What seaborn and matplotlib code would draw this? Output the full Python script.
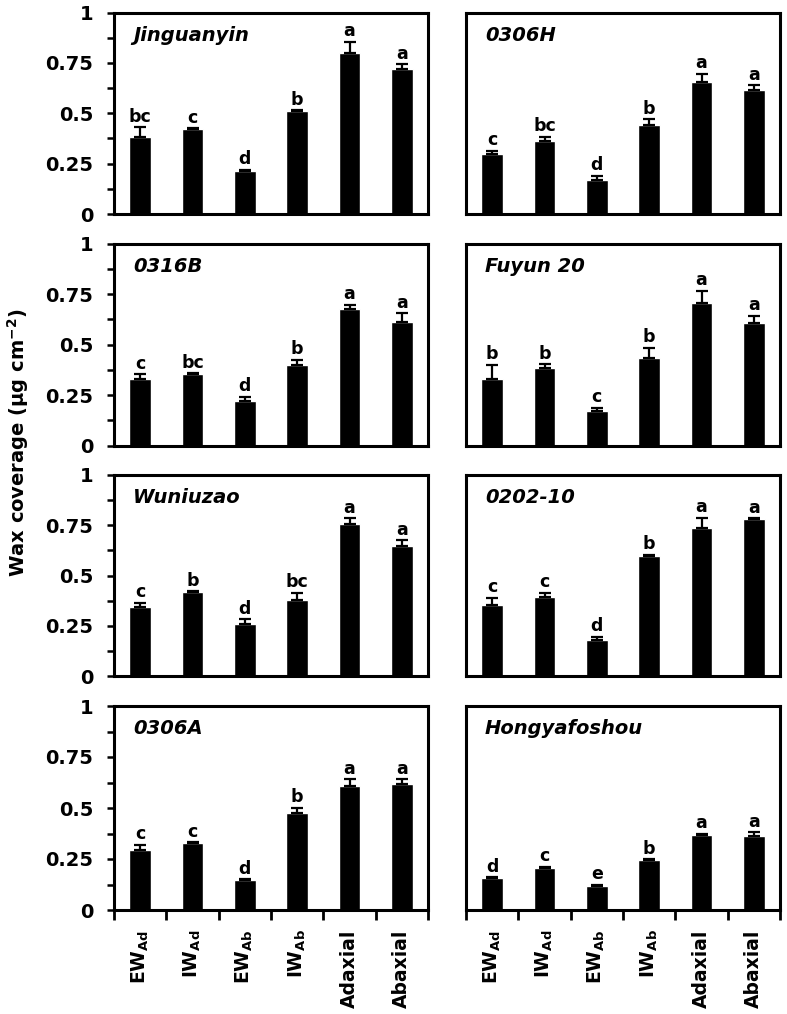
import matplotlib
matplotlib.use('Agg')
import matplotlib.pyplot as plt
import seaborn as sns
import pandas as pd
import numpy as np
from matplotlib.ticker import FixedLocator

sns.set_theme(style='white')
plt.rcParams['font.family'] = ['DejaVu Sans']
plt.rcParams['font.weight'] = 'bold'
plt.rcParams['mathtext.fontset'] = 'dejavusans'
for key in ['text.color', 'axes.labelcolor', 'xtick.color', 'ytick.color',
            'axes.edgecolor']:
    plt.rcParams[key] = 'black'

# ---------------- data ----------------
categories = ['EW_Ad', 'IW_Ad', 'EW_Ab', 'IW_Ab', 'Adaxial', 'Abaxial']
category_labels = [r'$\mathbf{EW}_{\mathbf{Ad}}$', r'$\mathbf{IW}_{\mathbf{Ad}}$',
                   r'$\mathbf{EW}_{\mathbf{Ab}}$', r'$\mathbf{IW}_{\mathbf{Ab}}$',
                   'Adaxial', 'Abaxial']
y_ticks = [0, 0.25, 0.5, 0.75, 1]
y_tick_labels = ['0', '0.25', '0.5', '0.75', '1']

genotypes = ['Jinguanyin', '0306H', '0316B', 'Fuyun 20',
             'Wuniuzao', '0202-10', '0306A', 'Hongyafoshou']

jinguanyin_mean = [0.38, 0.42, 0.215, 0.51, 0.80, 0.72]
jinguanyin_err = [0.05, 0.005, 0.004, 0.005, 0.055, 0.022]
jinguanyin_sig = ['bc', 'c', 'd', 'b', 'a', 'a']

h0306_mean = [0.30, 0.362, 0.169, 0.44, 0.655, 0.615]
h0306_err = [0.015, 0.02, 0.02, 0.03, 0.04, 0.023]
h0306_sig = ['c', 'bc', 'd', 'b', 'a', 'a']

b0316_mean = [0.33, 0.352, 0.22, 0.40, 0.678, 0.61]
b0316_err = [0.022, 0.005, 0.02, 0.023, 0.017, 0.045]
b0316_sig = ['c', 'bc', 'd', 'b', 'a', 'a']

fuyun20_mean = [0.33, 0.383, 0.169, 0.433, 0.705, 0.606]
fuyun20_err = [0.07, 0.018, 0.018, 0.05, 0.06, 0.035]
fuyun20_sig = ['b', 'b', 'c', 'b', 'a', 'a']

wuniuzao_mean = [0.342, 0.416, 0.259, 0.38, 0.756, 0.645]
wuniuzao_err = [0.023, 0.005, 0.023, 0.033, 0.028, 0.03]
wuniuzao_sig = ['c', 'b', 'd', 'bc', 'a', 'a']

l0202_mean = [0.353, 0.395, 0.179, 0.599, 0.738, 0.78]
l0202_err = [0.036, 0.02, 0.017, 0.005, 0.05, 0.005]
l0202_sig = ['c', 'c', 'd', 'b', 'a', 'a']

a0306_mean = [0.295, 0.328, 0.147, 0.477, 0.608, 0.62]
a0306_err = [0.025, 0.004, 0.004, 0.023, 0.033, 0.02]
a0306_sig = ['c', 'c', 'd', 'b', 'a', 'a']

hong_mean = [0.157, 0.208, 0.12, 0.245, 0.37, 0.365]
hong_err = [0.004, 0.004, 0.004, 0.004, 0.004, 0.015]
hong_sig = ['d', 'c', 'e', 'b', 'a', 'a']

means = [jinguanyin_mean, h0306_mean, b0316_mean, fuyun20_mean,
         wuniuzao_mean, l0202_mean, a0306_mean, hong_mean]
errs = [jinguanyin_err, h0306_err, b0316_err, fuyun20_err,
        wuniuzao_err, l0202_err, a0306_err, hong_err]
sigs = [jinguanyin_sig, h0306_sig, b0316_sig, fuyun20_sig,
        wuniuzao_sig, l0202_sig, a0306_sig, hong_sig]

# ---------------- layout ----------------
W, H = 787, 1014
fig = plt.figure(figsize=(W / 100, H / 100), dpi=100)
col_x = [(114, 428), (466, 780)]
row_y = [(12.5, 214), (243.5, 445.5), (475, 676), (706, 910)]

for i, name in enumerate(genotypes):
    r, c = divmod(i, 2)
    x0, x1 = col_x[c]
    yt, yb = row_y[r]
    ax = fig.add_axes([x0 / W, 1 - yb / H, (x1 - x0) / W, (yb - yt) / H])
    df = pd.DataFrame({'category': categories, 'value': means[i]})
    sns.barplot(data=df, x='category', y='value', color='black', width=0.42,
                saturation=1, errorbar=None, ax=ax, order=categories)
    xpos = np.arange(len(categories))
    ax.errorbar(xpos, means[i], yerr=[np.zeros(len(categories)), errs[i]],
                fmt='none', ecolor='black', elinewidth=1.6, capsize=4, capthick=1.6)
    for xp, m, e, s in zip(xpos, means[i], errs[i], sigs[i]):
        ax.text(xp, m + e + 0.008, s, ha='center', va='bottom',
                fontsize=12.5, fontweight='bold', color='black')
    ax.set_xlim(-0.5, 5.5)
    ax.set_ylim(0, 1)
    ax.set_xlabel('')
    ax.set_ylabel('')
    for sp in ax.spines.values():
        sp.set_visible(True)
        sp.set_linewidth(2.2)
        sp.set_color('black')
    ax.text(0.06, 0.888, name, transform=ax.transAxes, fontsize=14,
            fontstyle='italic', fontweight='bold', va='center', ha='left',
            color='black')
    # y axis
    if c == 0:
        ax.set_yticks(y_ticks)
        ax.set_yticklabels(y_tick_labels, fontsize=14, fontweight='bold')
        ax.yaxis.set_minor_locator(FixedLocator([0.125, 0.375, 0.625, 0.875]))
        ax.tick_params(axis='y', which='both', direction='out', length=5,
                       width=1.8, left=True, color='black', pad=10)
    else:
        ax.set_yticks([])
        ax.tick_params(axis='y', which='both', left=False, labelleft=False)
    # x axis
    if r == 3:
        ax.set_xticks(xpos)
        ax.set_xticklabels(category_labels, rotation=90, fontsize=13.5,
                           fontweight='bold')
        ax.xaxis.set_minor_locator(FixedLocator(np.arange(-0.5, 6, 1)))
        ax.tick_params(axis='x', which='major', length=0, pad=14)
        ax.tick_params(axis='x', which='minor', direction='out', length=7,
                       width=2, bottom=True, color='black')
    else:
        ax.set_xticks([])
        ax.tick_params(axis='x', which='both', bottom=False, labelbottom=False)

fig.text(18 / W, 1 - 443 / H, r'Wax coverage (µg cm$^{\mathbf{-2}}$)',
         rotation=90, va='center', ha='center', fontsize=14,
         fontweight='bold', color='black')

fig.savefig('out.png', dpi=100, facecolor='white')
